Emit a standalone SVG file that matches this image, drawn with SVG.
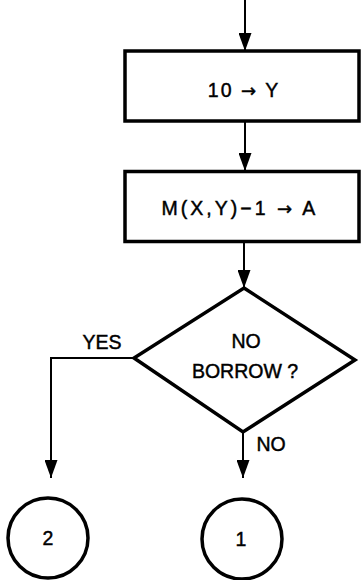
<svg xmlns="http://www.w3.org/2000/svg" width="362" height="580" viewBox="0 0 362 580">
<style>
.box{fill:#fff;stroke:#000;stroke-width:3.5}
.ln{fill:none;stroke:#000;stroke-width:2}
.t{font-family:"Liberation Sans",Arial,sans-serif;font-size:19.5px;fill:#000;stroke:#000;stroke-width:0.45;text-anchor:middle}
.ar{font-family:"DejaVu Sans",sans-serif;font-size:18px}
</style>
<defs>
<marker id="ah" markerUnits="userSpaceOnUse" markerWidth="18" markerHeight="13" refX="18" refY="6.5" orient="auto">
<path d="M0,0 L18,6.5 L0,13 z" fill="#000"/>
</marker>
</defs>
<rect width="362" height="580" fill="#fff"/>
<g id="connectors">
<line class="ln" x1="245" y1="0" x2="245" y2="51" marker-end="url(#ah)"/>
<line class="ln" x1="245" y1="121" x2="245" y2="171" marker-end="url(#ah)"/>
<line class="ln" x1="244" y1="241" x2="244" y2="288" marker-end="url(#ah)"/>
<polyline class="ln" points="134,358 51,358 51,478" marker-end="url(#ah)"/>
<line class="ln" x1="243" y1="432" x2="243" y2="478" marker-end="url(#ah)"/>
<text class="t" x="102" y="349">YES</text>
<text class="t" x="271" y="451">NO</text>
</g>
<g id="init">
<rect class="box" x="125" y="51" width="234" height="70"/>
<text class="t" x="244" y="97" letter-spacing="2">10 <tspan class="ar">→</tspan> Y</text>
</g>
<g id="sub">
<rect class="box" x="125" y="171.5" width="234" height="70"/>
<text class="t" x="240" y="215" letter-spacing="3">M(X,Y)−1 <tspan class="ar">→</tspan> A</text>
</g>
<g id="decision">
<polygon class="box" points="244,288 355,360 243,432 134,358"/>
<text class="t" x="246" y="348">NO</text>
<text class="t" x="245" y="378">BORROW ?</text>
</g>
<g id="c2">
<circle class="box" cx="48" cy="538" r="40"/>
<text class="t" x="48" y="545">2</text>
</g>
<g id="c1">
<circle class="box" cx="242" cy="539" r="40"/>
<text class="t" x="241" y="546">1</text>
</g>
</svg>
